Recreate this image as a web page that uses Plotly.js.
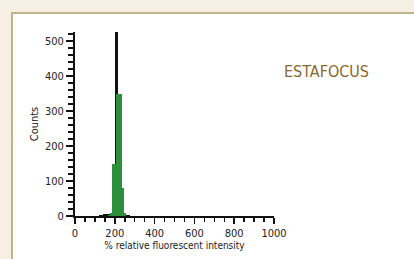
<!DOCTYPE html>
<html>
<head>
<meta charset="utf-8">
<script src="https://cdn.plot.ly/plotly-3.0.1.min.js"></script>
<style>
  html, body { margin:0; padding:0; width:414px; height:259px; background:#f5f0e3; overflow:hidden; }
  #frame { position:absolute; left:11px; top:12px; width:401px; height:245px; background:#ffffff;
           border-left:2px solid #c4b389; border-top:2px solid #c4b389; }
  #chart { width:401px; height:245px; }
</style>
</head>
<body>
<div id="frame"><div id="chart"></div></div>
<script>
// histogram bins (% relative fluorescent intensity, bin centres)
const binCenters = [130, 140, 150, 160, 170, 180, 190, 200, 210, 220, 230, 240, 250, 260, 270, 280];
// control population (black)
const blackCounts = [2, 4, 5, 5, 6, 6, 8, 20, 560, 30, 10, 6, 5, 4, 3, 1];
// ESTAFOCUS population (green)
const greenCounts = [0, 0, 0, 0, 4, 8, 150, 150, 350, 350, 350, 80, 8, 0, 0, 0];

const xTicks = [0, 200, 400, 600, 800, 1000];
const yTicks = [0, 100, 200, 300, 400, 500];
const label = "ESTAFOCUS";

const fontFam = "Liberation Sans Narrow, DejaVu Sans Condensed, Arial Narrow, sans-serif";

const traces = [
  { type:'bar', x: binCenters, y: blackCounts, width: 14,
    marker:{ color:'#111111', line:{width:0} }, hoverinfo:'x+y', showlegend:false },
  { type:'bar', x: binCenters, y: greenCounts, width: 10,
    marker:{ color:'#2c8f3c', line:{width:0} }, hoverinfo:'x+y', showlegend:false }
];

const layout = {
  width: 401, height: 245,
  margin: { l: 62, r: 140, t: 18, b: 43 },
  paper_bgcolor: '#ffffff', plot_bgcolor: '#ffffff',
  barmode: 'overlay', bargap: 0,
  font: { family: fontFam, size: 11, color: '#222' },
  xaxis: {
    range: [0, 1000], tickvals: xTicks, ticktext: xTicks.map(String),
    showgrid: false, zeroline: false, showline: true, linecolor: '#111', linewidth: 2,
    ticks: 'outside', ticklen: 6, tickwidth: 1.5, tickcolor: '#111',
    minor: { dtick: 50, ticks: 'outside', ticklen: 4, tickwidth: 1.5, tickcolor: '#111', showgrid:false },
    tickfont: { family: fontFam, size: 11, color: '#222' },
    title: { text: '% relative fluorescent intensity', font: { family: fontFam, size: 10, color: '#222' }, standoff: 3 }
  },
  yaxis: {
    range: [0, 526], tickvals: yTicks, ticktext: yTicks.map(String),
    showgrid: false, zeroline: false, showline: true, linecolor: '#111', linewidth: 2,
    ticks: 'outside', ticklen: 7, tickwidth: 1.5, tickcolor: '#111',
    minor: { dtick: 20, ticks: 'outside', ticklen: 5, tickwidth: 1.5, tickcolor: '#111', showgrid:false },
    tickfont: { family: fontFam, size: 11, color: '#222' },
    title: { text: 'Counts', font: { family: fontFam, size: 11, color: '#222' }, standoff: 4 }
  },
  annotations: [
    { text: label, xref: 'paper', yref: 'paper', x: 1.264, y: 0.785, xanchor: 'center', yanchor: 'middle',
      showarrow: false, font: { family: fontFam, size: 16, color: '#8a672c' } }
  ]
};

Plotly.newPlot('chart', traces, layout, { displayModeBar: false, staticPlot: true });
</script>
</body>
</html>
